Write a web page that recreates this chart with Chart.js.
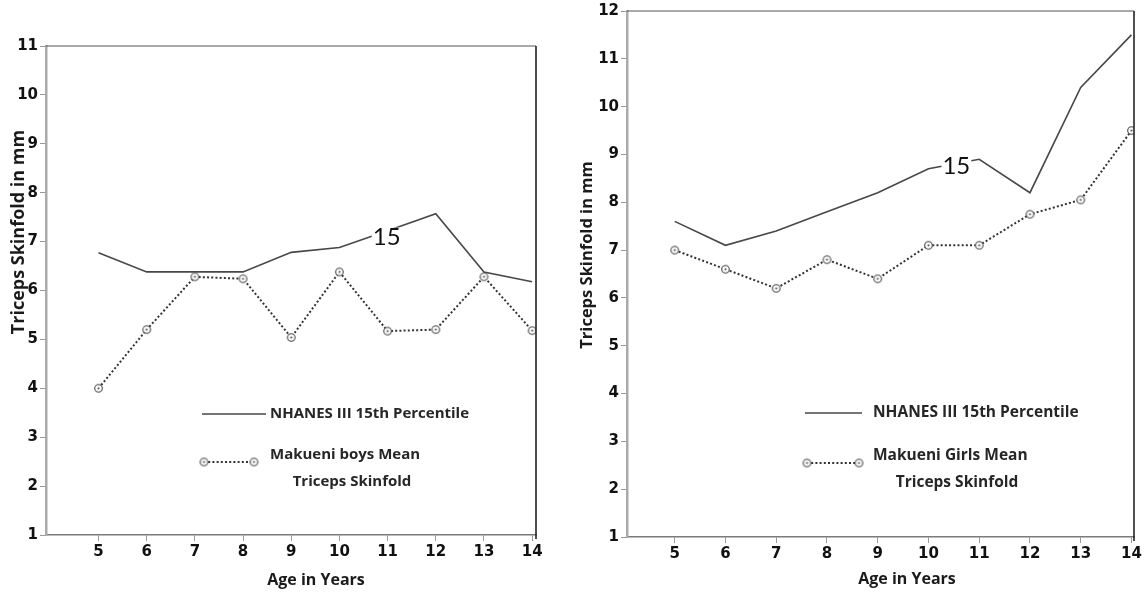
<!DOCTYPE html>
<html>
<head>
<meta charset="utf-8">
<script src="https://cdn.jsdelivr.net/npm/chart.js@4.4.1/dist/chart.umd.min.js"></script>
<style>
  html, body { margin: 0; padding: 0; background: #fff; }
  #wrap { position: relative; width: 1146px; height: 594px; overflow: hidden; }
  #boys { position: absolute; left: 0; top: 0; }
  #girls { position: absolute; left: 565px; top: 0; }
</style>
</head>
<body>
<div id="wrap">
  <canvas id="boys" width="560" height="594"></canvas>
  <canvas id="girls" width="581" height="594"></canvas>
</div>
<script>
// ages on the x axis (also the tick labels)
const ages = [5, 6, 7, 8, 9, 10, 11, 12, 13, 14];

// boys panel
const boysNhanes = [6.77, 6.38, 6.38, 6.38, 6.78, 6.88, 7.22, 7.57, 6.38, 6.18];
const boysMean   = [4.0, 5.2, 6.28, 6.24, 5.04, 6.38, 5.17, 5.2, 6.28, 5.18];
const boysYTicks = [1, 2, 3, 4, 5, 6, 7, 8, 9, 10, 11];

// girls panel
const girlsNhanes = [7.6, 7.1, 7.4, 7.8, 8.2, 8.7, 8.9, 8.2, 10.4, 11.5];
const girlsMean   = [7.0, 6.6, 6.2, 6.8, 6.4, 7.1, 7.1, 7.75, 8.05, 9.5];
const girlsYTicks = [1, 2, 3, 4, 5, 6, 7, 8, 9, 10, 11, 12];

const nhanesLabel = 'NHANES III 15th Percentile';

// open circle with a dot in the middle
function makeMarker() {
  const c = document.createElement('canvas');
  c.width = 11; c.height = 11;
  const g = c.getContext('2d');
  g.beginPath();
  g.arc(5.5, 5.5, 3.8, 0, Math.PI * 2);
  g.fillStyle = '#fff';
  g.fill();
  g.lineWidth = 1.1;
  g.strokeStyle = '#444';
  g.stroke();
  g.beginPath();
  g.arc(5.5, 5.5, 1.1, 0, Math.PI * 2);
  g.fillStyle = '#555';
  g.fill();
  return c;
}
const marker = makeMarker();

// frame, "15" tag, legend and axis titles
const decor = {
  id: 'decor',
  afterDraw(chart, args, o) {
    const { ctx, chartArea: a, scales: { x, y } } = chart;
    ctx.save();

    // top and right border
    ctx.strokeStyle = '#555';
    ctx.lineWidth = 1.2;
    ctx.beginPath();
    ctx.moveTo(a.left, a.top);
    ctx.lineTo(a.right, a.top);
    ctx.stroke();
    ctx.strokeStyle = '#222';
    ctx.lineWidth = 1.6;
    ctx.beginPath();
    ctx.moveTo(a.right, a.top);
    ctx.lineTo(a.right, a.bottom + 4);
    ctx.stroke();

    // "15" tag sitting on the percentile line
    ctx.font = '24px Lato';
    ctx.textAlign = 'center';
    ctx.textBaseline = 'middle';
    const tx = x.getPixelForValue(o.tag.x), ty = y.getPixelForValue(o.tag.y);
    const tw = ctx.measureText(o.tag.text).width;
    ctx.fillStyle = '#fff';
    ctx.fillRect(tx - tw / 2 - 1, ty - 9, tw + 2, 19);
    ctx.fillStyle = '#111';
    ctx.fillText(o.tag.text, tx, ty + 1);

    // legend
    const L = o.legend;
    const ds0 = chart.data.datasets[0], ds1 = chart.data.datasets[1];
    ctx.strokeStyle = ds0.borderColor;
    ctx.lineWidth = ds0.borderWidth;
    ctx.beginPath();
    ctx.moveTo(L.x1, L.y1);
    ctx.lineTo(L.x2, L.y1);
    ctx.stroke();
    ctx.strokeStyle = ds1.borderColor;
    ctx.lineWidth = ds1.borderWidth;
    ctx.setLineDash(ds1.borderDash);
    ctx.beginPath();
    ctx.moveTo(L.x1 + 2, L.y2);
    ctx.lineTo(L.x3, L.y2);
    ctx.stroke();
    ctx.setLineDash([]);
    ctx.drawImage(marker, L.x1 + 2 - 5.5, L.y2 - 5.5);
    ctx.drawImage(marker, L.x3 - 5.5, L.y2 - 5.5);

    ctx.font = 'bold ' + L.size + 'px "Open Sans"';
    ctx.fillStyle = '#262626';
    ctx.textAlign = 'left';
    ctx.fillText(ds0.label, L.tx, L.y1);
    ctx.fillText(L.lines[0], L.tx, L.y2 - 7);
    ctx.textAlign = 'center';
    ctx.fillText(L.lines[1], L.cx, L.y2 + 20);

    // axis titles
    ctx.fillStyle = '#1a1a1a';
    ctx.font = 'bold 16px "Open Sans"';
    ctx.fillText('Age in Years', o.xTitle.x, o.xTitle.y);
    ctx.save();
    ctx.translate(o.yTitle.x, o.yTitle.y);
    ctx.rotate(-Math.PI / 2);
    ctx.font = 'bold ' + o.yTitle.size + 'px "Open Sans"';
    ctx.fillText('Triceps Skinfold in mm', 0, 0);
    ctx.restore();

    ctx.restore();
  }
};

function makeChart(id, p) {
  const tickFont = { family: 'DejaVu Sans', weight: 'bold', size: 15 };
  return new Chart(document.getElementById(id), {
    type: 'line',
    data: {
      datasets: [
        {
          label: nhanesLabel,
          data: ages.map((a, i) => ({ x: a, y: p.nhanes[i] })),
          borderColor: '#474747',
          borderWidth: 1.6,
          pointRadius: 0,
          tension: 0
        },
        {
          label: p.meanLines.join(' '),
          data: ages.map((a, i) => ({ x: a, y: p.mean[i] })),
          borderColor: '#333',
          borderWidth: 2,
          borderDash: [2, 2.2],
          pointStyle: marker,
          pointRadius: 5,
          tension: 0
        }
      ]
    },
    options: {
      responsive: false,
      animation: false,
      events: [],
      layout: { padding: { top: p.top, right: p.right, left: 0, bottom: 0 } },
      plugins: {
        legend: { display: false },
        tooltip: { enabled: false },
        decor: {
          tag: p.tag,
          legend: Object.assign({ lines: p.meanLines }, p.legend),
          xTitle: p.xTitle,
          yTitle: p.yTitle
        }
      },
      scales: {
        x: {
          type: 'linear',
          min: p.xMin,
          max: p.xMax,
          afterBuildTicks: s => { s.ticks = ages.map(v => ({ value: v })); },
          afterFit: s => { s.height = p.bottomH; },
          grid: { drawOnChartArea: false, drawTicks: true, tickLength: 6, color: '#999' },
          border: { color: '#7a7a7a', width: 1.5 },
          ticks: { font: tickFont, color: '#111', padding: 2, maxRotation: 0, autoSkip: false }
        },
        y: {
          min: p.yTicks[0],
          max: p.yTicks[p.yTicks.length - 1],
          afterBuildTicks: s => { s.ticks = p.yTicks.map(v => ({ value: v })); },
          afterFit: s => { s.width = p.leftW; },
          grid: { drawOnChartArea: false, drawTicks: true, tickLength: 6, color: '#999' },
          border: { color: '#aaa', width: 2.5 },
          ticks: { font: tickFont, color: '#111', padding: 2 }
        }
      }
    },
    plugins: [decor]
  });
}

makeChart('boys', {
  nhanes: boysNhanes, mean: boysMean, yTicks: boysYTicks,
  meanLines: ['Makueni boys Mean', 'Triceps Skinfold'],
  xMin: 3.91, xMax: 14.08, top: 46, right: 24, leftW: 46, bottomH: 59,
  tag: { x: 10.98, y: 7.1, text: '15' },
  legend: { x1: 202, x2: 266, x3: 254, y1: 414, y2: 462, tx: 270, cx: 352, size: 15 },
  xTitle: { x: 316, y: 580 },
  yTitle: { x: 19, y: 232, size: 18 }
});

makeChart('girls', {
  nhanes: girlsNhanes, mean: girlsMean, yTicks: girlsYTicks,
  meanLines: ['Makueni Girls Mean', 'Triceps Skinfold'],
  xMin: 4.06, xMax: 14.05, top: 11, right: 12, leftW: 62, bottomH: 57,
  tag: { x: 10.55, y: 8.78, text: '15' },
  legend: { x1: 240, x2: 297, x3: 294, y1: 413, y2: 463, tx: 308, cx: 392, size: 15.5 },
  xTitle: { x: 342, y: 579 },
  yTitle: { x: 22, y: 255, size: 16.5 }
});
</script>
</body>
</html>
